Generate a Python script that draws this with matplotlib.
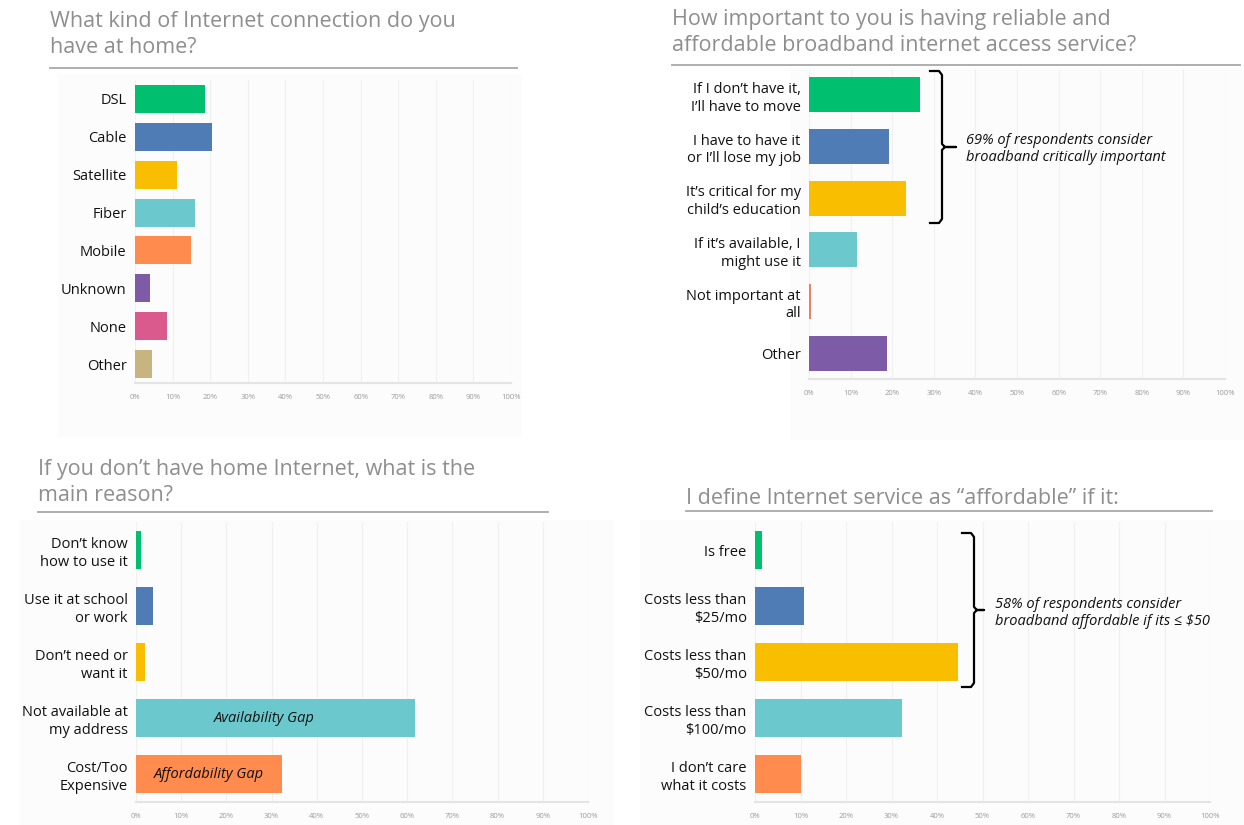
import matplotlib
matplotlib.use("Agg")
import matplotlib.pyplot as plt
from matplotlib.lines import Line2D
from matplotlib.patches import Rectangle

plt.rcParams['font.family'] = ['Open Sans', 'DejaVu Sans']

W, H = 1244, 825

# ---- data (percent of respondents) ----
conn_labels = ["DSL", "Cable", "Satellite", "Fiber", "Mobile", "Unknown", "None", "Other"]
conn_values = [18.7, 20.4, 11.1, 15.9, 14.9, 4.1, 8.6, 4.6]

imp_labels = ["If I don’t have it,\nI’ll have to move", "I have to have it\nor I’ll lose my job",
              "It’s critical for my\nchild’s education", "If it’s available, I\nmight use it",
              "Not important at\nall", "Other"]
imp_values = [26.8, 19.3, 23.4, 11.5, 0.6, 18.7]

reason_labels = ["Don’t know\nhow to use it", "Use it at school\nor work", "Don’t need or\nwant it",
                 "Not available at\nmy address", "Cost/Too\nExpensive"]
reason_values = [1.0, 3.8, 2.0, 61.7, 32.2]

afford_labels = ["Is free", "Costs less than\n$25/mo", "Costs less than\n$50/mo",
                 "Costs less than\n$100/mo", "I don’t care\nwhat it costs"]
afford_values = [1.6, 10.8, 44.6, 32.2, 10.0]

tick_labels = ["0%", "10%", "20%", "30%", "40%", "50%", "60%", "70%", "80%", "90%", "100%"]

GREEN, BLUE, YELLOW, TEAL = "#00BF6F", "#507CB6", "#F9BE00", "#6BC8CD"
ORANGE, PURPLE, PINK, TAN = "#FF8B4F", "#7D5BA6", "#DB5A8E", "#C8B47E"
SALMON = "#E8806A"

conn_colors = [GREEN, BLUE, YELLOW, TEAL, ORANGE, PURPLE, PINK, TAN]
imp_colors = [GREEN, BLUE, YELLOW, TEAL, SALMON, PURPLE]
five_colors = [GREEN, BLUE, YELLOW, TEAL, ORANGE]

fig = plt.figure(figsize=(W / 100, H / 100), dpi=100)


def fx(x):
    return x / W


def fy(y):
    return 1 - y / H


def bg_box(x0, y0, x1, y1):
    fig.patches.append(Rectangle((fx(x0), fy(y1)), fx(x1 - x0), (y1 - y0) / H,
                                 transform=fig.transFigure, facecolor="#fcfcfc",
                                 edgecolor="none", zorder=-5))


def title(x, ytop, text, x_line_end, y_line):
    fig.text(fx(x), fy(ytop), text, ha="left", va="top", fontsize=15.5,
             color="#8e8e8e", linespacing=1.3)
    fig.add_artist(Line2D([fx(x), fx(x_line_end)], [fy(y_line), fy(y_line)],
                          color="#a8a8a8", lw=1.3, transform=fig.transFigure))


def bar_panel(x0, x1, ytop, ybot, labels, values, colors, height):
    ax = fig.add_axes([fx(x0), fy(ybot), fx(x1 - x0), (ybot - ytop) / H])
    pos = list(range(len(labels)))
    ax.barh(pos, values, height=height, color=colors, zorder=3)
    ax.set_xlim(0, 100)
    ax.set_ylim(len(labels) - 0.5, -0.5)
    ax.set_yticks(pos)
    ax.set_yticklabels(labels, fontsize=10.5, color="#111111", linespacing=1.25)
    ax.set_xticks(range(0, 101, 10))
    ax.set_xticklabels(tick_labels, fontsize=5.5, color="#9a9a9a")
    ax.tick_params(axis="both", length=0)
    ax.tick_params(axis="x", pad=8)
    ax.tick_params(axis="y", pad=6)
    ax.grid(axis="x", color="#f0f0f0", lw=0.8, zorder=0)
    for s in ["top", "right", "left"]:
        ax.spines[s].set_visible(False)
    ax.spines["bottom"].set_color("#e4e4e4")
    ax.spines["bottom"].set_linewidth(1.5)
    ax.set_facecolor("none")
    return ax


def bracket(x0, x1, x2, ytop, ybot):
    ym = (ytop + ybot) / 2
    xs = [x0, x1 - 3, x1, x1, x1 + 3, x2, x1 + 3, x1, x1, x1 - 3, x0]
    ys = [ytop, ytop, ytop + 4, ym - 3, ym, ym, ym, ym + 3, ybot - 4, ybot, ybot]
    fig.add_artist(Line2D([fx(v) for v in xs], [fy(v) for v in ys], color="black",
                          lw=1.6, transform=fig.transFigure, solid_joinstyle="round"))


# faint backdrop of the screenshot areas
bg_box(58, 74, 522, 437)
bg_box(790, 70, 1244, 440)
bg_box(20, 520, 614, 825)
bg_box(640, 520, 1244, 825)

# ---- top-left ----
title(50, 11, "What kind of Internet connection do you\nhave at home?", 517, 68)
bar_panel(135, 511, 80, 383, conn_labels, conn_values, conn_colors, 0.74)

# ---- top-right ----
title(672, 9, "How important to you is having reliable and\naffordable broadband internet access service?", 1240, 65)
bar_panel(809, 1225, 69, 379, imp_labels, imp_values, imp_colors, 0.68)
bracket(930, 942, 956, 71, 223)
fig.text(fx(966), fy(149), "69% of respondents consider\nbroadband critically important",
         ha="left", va="center", fontsize=10.5, style="italic", color="#111111", linespacing=1.2)

# ---- bottom-left ----
title(38, 459, "If you don’t have home Internet, what is the\nmain reason?", 548, 512)
ax3 = bar_panel(136, 588, 522, 802, reason_labels, reason_values, five_colors, 0.68)
ax3.text(reason_values[3] * 0.46, 3, "Availability Gap", ha="center", va="center",
         fontsize=10.5, style="italic", color="#111111", zorder=4)
ax3.text(reason_values[4] / 2, 4, "Affordability Gap", ha="center", va="center",
         fontsize=10.5, style="italic", color="#111111", zorder=4)

# ---- bottom-right ----
title(686, 488, "I define Internet service as “affordable” if it:", 1212, 511)
bar_panel(755, 1210, 522, 802, afford_labels, afford_values, five_colors, 0.68)
bracket(962, 974, 984, 533, 687)
fig.text(fx(995), fy(613), "58% of respondents consider\nbroadband affordable if its ≤ $50",
         ha="left", va="center", fontsize=10.5, style="italic", color="#111111", linespacing=1.2)

fig.savefig("out.png", dpi=100)
